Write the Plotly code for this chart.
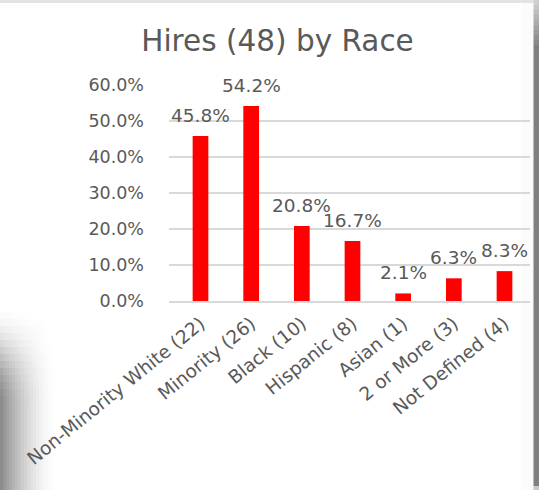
import plotly.graph_objects as go

# Hires by race: category labels (with head counts) and share of hires in percent
categories = [
    "Non-Minority White (22)",
    "Minority (26)",
    "Black (10)",
    "Hispanic (8)",
    "Asian (1)",
    "2 or More (3)",
    "Not Defined (4)",
]
share_pct = [45.8, 54.2, 20.8, 16.7, 2.1, 6.3, 8.3]
y_ticks = [0, 10, 20, 30, 40, 50, 60]
y_tick_labels = [f"{t:.1f}%" for t in y_ticks]

W, H = 539, 490
FONT = "DejaVu Sans"
TEXT_GREY = "#595959"
GRID_GREY = "#d9d9d9"


def px(x):
    return x / W


def py(y):
    return 1 - y / H


fig = go.Figure()
fig.add_trace(
    go.Bar(
        x=categories,
        y=share_pct,
        marker=dict(color="#ff0000", line=dict(width=0)),
        hoverinfo="skip",
    )
)

# value labels above each bar
annotations = []
for cat, v in zip(categories, share_pct):
    annotations.append(
        dict(
            x=cat, y=v, xref="x", yref="y",
            text=f"{v:.1f}%", showarrow=False,
            yanchor="bottom", xanchor="center", yshift=8,
            font=dict(family=FONT, size=18.5, color=TEXT_GREY),
        )
    )

# slide frame: top band, right edge and soft drop shadow at lower left
shapes = []


def rect(x0, y0, x1, y1, color):
    shapes.append(dict(
        type="rect", xref="paper", yref="paper",
        x0=px(x0), x1=px(x1), y0=py(y1), y1=py(y0),
        fillcolor=color, line=dict(width=0), layer="below",
    ))


def grey(level):
    level = int(max(0, min(255, round(level))))
    return f"rgb({level},{level},{level})"


rect(0, 0, 534, 3, "#e3e3e3")
rect(521, 3, 534, 490, "#fbfbfb")
# right edge, lighter at the top
for i in range(10):
    y0 = i * 5
    lvl = 215 - (215 - 128) * (i + 1) / 10
    rect(533.5, y0, W, y0 + 5, grey(lvl))
rect(533.5, 50, W, 486, grey(128))
rect(533.5, 486, W, H, grey(200))


def shadow_dark(x, y):
    fx = max(0.0, 1 - x / 57) ** 1.7
    t = min(1.0, max(0.0, (y - 305) / 100))
    gy = t * t * (3 - 2 * t)
    return 0.47 * fx * gy


step_x = 3
rows = [(305 + 7 * k, 305 + 7 * (k + 1)) for k in range(15)] + [(410, H)]
for (y0, y1) in rows:
    for xi in range(0, 57, step_x):
        d = shadow_dark(xi + step_x / 2, (y0 + y1) / 2)
        if d < 0.004:
            continue
        rect(xi, y0, xi + step_x, y1, grey(255 * (1 - d)))

fig.update_layout(
    width=W,
    height=H,
    margin=dict(l=0, r=0, t=0, b=0, autoexpand=False),
    paper_bgcolor="white",
    plot_bgcolor="white",
    showlegend=False,
    bargap=0.69,
    title=dict(
        text="Hires (48) by Race",
        x=px(277.5), xanchor="center", xref="paper",
        y=py(41), yanchor="middle", yref="paper",
        font=dict(family=FONT, size=29.5, color=TEXT_GREY),
    ),
    xaxis=dict(
        domain=[px(169), px(530)],
        tickangle=-39,
        tickfont=dict(family=FONT, size=18.5, color=TEXT_GREY),
        showgrid=False,
        showline=True,
        linecolor=GRID_GREY,
        linewidth=1.5,
        ticks="",
        ticklabelstandoff=3,
        automargin=False,
        fixedrange=True,
    ),
    yaxis=dict(
        domain=[py(301), py(85)],
        range=[0, 60],
        tickvals=y_ticks,
        ticktext=y_tick_labels,
        tickfont=dict(family=FONT, size=17.5, color=TEXT_GREY),
        showgrid=True,
        gridcolor=GRID_GREY,
        gridwidth=1.5,
        zeroline=False,
        showline=False,
        ticks="",
        ticklabelstandoff=24,
        automargin=False,
        fixedrange=True,
    ),
    annotations=annotations,
    shapes=shapes,
)

fig.write_html("out.html")
